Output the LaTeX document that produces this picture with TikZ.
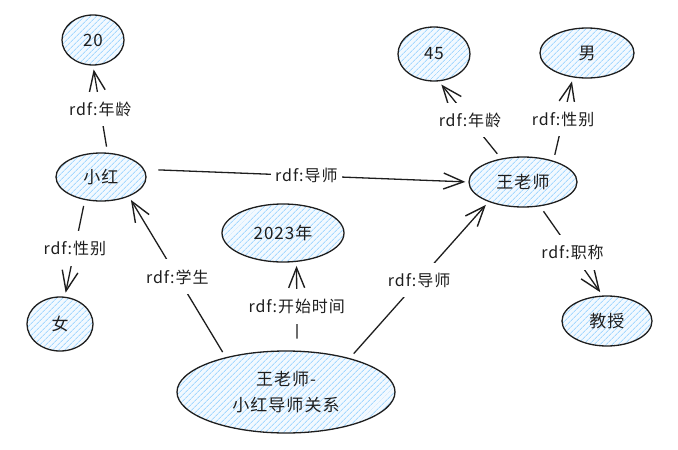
\documentclass[tikz,border=0pt]{standalone}
\usepackage{fontspec}
\setmainfont{Noto Sans CJK SC}
\newfontfamily\hand[LetterSpace=6]{Noto Sans CJK SC}
\usetikzlibrary{arrows.meta,patterns.meta,shapes.geometric}
\definecolor{hatch}{HTML}{A5D8FF}
\definecolor{ink}{HTML}{1E1E1E}
\definecolor{soft}{HTML}{F2F9FF}
\tikzset{
  ent/.style={ellipse, draw=ink, line width=1.3pt, inner sep=0pt,
    preaction={fill=soft},
    pattern={Lines[angle=45,distance=4pt,line width=1pt]}, pattern color=hatch,
    font=\hand\fontsize{17}{26}\selectfont, text=ink, align=center},
  arr/.style={draw=ink, line width=1.3pt,
    arrows={-Straight Barb[length=20pt 0 0, width=16pt 0 0, line width=1.4pt 0 0]},
    shorten <=6pt, shorten >=4pt},
  lab/.style={fill=white, inner xsep=4pt, inner ysep=10pt, text=ink,
    font=\hand\fontsize{16}{18}\selectfont}
}
\begin{document}
\begin{tikzpicture}[x=1pt,y=-1pt]
\useasboundingbox (0,0) rectangle (678,450);
% nodes
\node[ent, minimum width=62pt, minimum height=50pt] (n20) at (93,40) {20};
\node[ent, minimum width=90pt, minimum height=48pt] (xh) at (101,177) {小红};
\node[ent, minimum width=72pt, minimum height=54pt] (n45) at (434,54) {45};
\node[ent, minimum width=94pt, minimum height=50pt] (nm) at (587,53) {男};
\node[ent, minimum width=108pt, minimum height=50pt] (wang) at (523,182) {王老师};
\node[ent, minimum width=122pt, minimum height=58pt] (n2023) at (283,233) {2023年};
\node[ent, minimum width=66pt, minimum height=54pt] (nv) at (60,324) {女};
\node[ent, minimum width=218pt, minimum height=82pt] (rel) at (286,392) {王老师-\\小红导师关系};
\node[ent, minimum width=90pt, minimum height=50pt] (js) at (607,321) {教授};
% edges
\draw[arr] (xh.75) -- node[lab, pos=0.5] {rdf:年龄} (n20.south);
\draw[arr, shorten <=14pt, shorten >=3pt] (xh.10) -- node[lab, pos=0.5] {rdf:导师} (wang.west);
\draw[arr] (xh.-125) -- node[lab, pos=0.5] {rdf:性别} (nv.80);
\draw[arr] (rel.150) -- node[lab, pos=0.5] {rdf:学生} (xh.-35);
\draw[arr, shorten <=12pt] (rel.75) -- node[lab, pos=0.5] {rdf:开始时间} (n2023.-65);
\draw[arr] (rel.28) -- node[lab, pos=0.5] {rdf:导师} (wang.-150);
\draw[arr] (wang.133) -- node[lab, pos=0.5] {rdf:年龄} (n45.-80);
\draw[arr] (wang.35) -- node[lab, pos=0.5] {rdf:性别} (nm.-120);
\draw[arr] (wang.-55) -- node[lab, pos=0.52] {rdf:职称} (js.100);
\end{tikzpicture}
\end{document}
